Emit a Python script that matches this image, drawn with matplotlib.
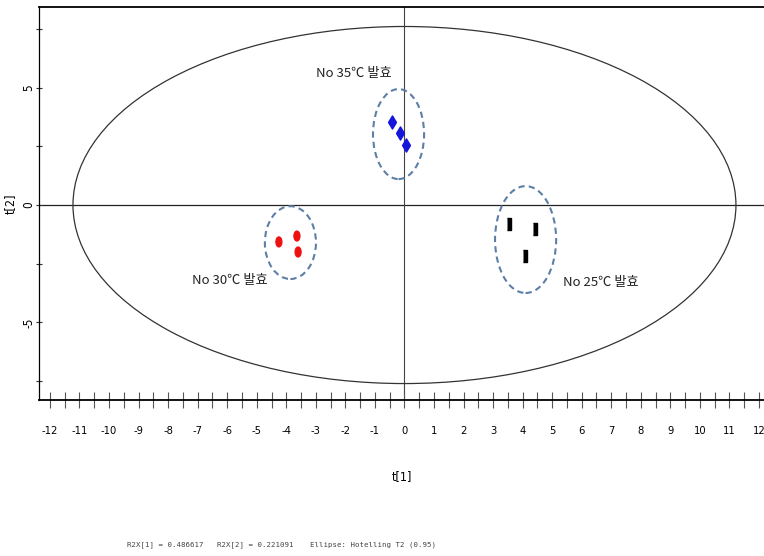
import matplotlib
matplotlib.use("Agg")
import matplotlib.pyplot as plt
from matplotlib.patches import Ellipse
from matplotlib.ticker import MultipleLocator

plt.rcParams['font.family'] = ['Noto Sans CJK KR', 'DejaVu Sans']
plt.rcParams['axes.unicode_minus'] = False

# PCA score values (t[1], t[2]) per sample group
groups = ["No 25℃ 발효", "No 30℃ 발효", "No 35℃ 발효"]
t1_25 = [3.54, 4.42, 4.08]
t2_25 = [-0.81, -1.02, -2.17]
t1_30 = [-4.25, -3.64, -3.60]
t2_30 = [-1.57, -1.32, -2.00]
t1_35 = [-0.42, -0.15, 0.05]
t2_35 = [3.53, 3.06, 2.55]

# group outline (centre x, centre y, width, height) and label position
group_circles = [(4.10, -1.47, 2.07, 4.55), (-3.86, -1.60, 1.73, 3.10), (-0.20, 3.02, 1.73, 3.83)]
label_pos = [(6.65, -3.28), (-5.90, -3.23), (-1.71, 5.58)]

# Hotelling T2 (0.95) ellipse semi-axes
t2_a = 11.22
t2_b = 7.6
r2x = [0.486617, 0.221091]

fig = plt.figure(figsize=(7.64, 5.56), dpi=100)
ax = fig.add_axes([39 / 764, 1 - 400 / 556, 1 - 39 / 764, 393 / 556])
ax.set_xlim(-12.37, 12.17)
ax.set_ylim(-8.30, 8.43)

ax.axhline(0, color='#222222', lw=0.9, zorder=1)
ax.axvline(0, color='#444444', lw=0.8, zorder=1)
ax.add_patch(Ellipse((0, 0), 2 * t2_a, 2 * t2_b, fill=False, ec='#333333', lw=0.9))

# markers: black bars, red dots, blue diamonds
bar = [(-0.35, -1), (0.35, -1), (0.35, 1), (-0.35, 1)]
ax.scatter(t1_25, t2_25, marker=bar, s=70, color='black', zorder=3)
ax.scatter(t1_35, t2_35, marker='d', s=45, color='#1515dd', zorder=3)
# red dots, a little taller than wide
for x, y in zip(t1_30, t2_30):
    ax.add_patch(Ellipse((x, y), 0.2, 0.42, color='#ee1111', zorder=3))

for (cx, cy, w, h), (lx, ly), name in zip(group_circles, label_pos, groups):
    ax.add_patch(Ellipse((cx, cy), w, h, fill=False, ec='#5d7fa6', lw=1.5, ls=(0, (3, 2))))
    ax.text(lx, ly, name, ha='center', va='center', fontsize=9.5, color='#222222')

ax.spines['right'].set_visible(False)
ax.spines['top'].set_linewidth(1.3)
ax.spines['bottom'].set_linewidth(1.3)
ax.spines['left'].set_linewidth(0.9)

ax.xaxis.set_major_locator(MultipleLocator(1))
ax.xaxis.set_minor_locator(MultipleLocator(0.5))
ax.yaxis.set_major_locator(MultipleLocator(5))
ax.yaxis.set_minor_locator(MultipleLocator(2.5))
ax.tick_params(axis='x', which='both', direction='inout', length=12, width=0.8,
               color='#555555', pad=13, labelsize=8)
ax.tick_params(axis='y', which='both', direction='inout', length=5, width=0.8,
               color='#333333', pad=0, labelsize=8.5)
for lab in ax.get_xticklabels() + ax.get_yticklabels():
    lab.set_family('DejaVu Sans')
    lab.set_stretch('condensed')
for lab in ax.get_yticklabels():
    lab.set_rotation(90)
    lab.set_va('center')

ax.set_xlabel("t[1]", fontsize=9, labelpad=24, family='DejaVu Sans', stretch='condensed')
ax.set_ylabel("t[2]", fontsize=9, family='DejaVu Sans', stretch='condensed')
ax.yaxis.set_label_coords(-22 / 725, 0.5)

foot_y = 1 - 545 / 556
foot = dict(ha='left', va='center', fontsize=5.3, family='DejaVu Sans Mono', color='#444444')
fig.text(127 / 764, foot_y, "R2X[1] = %.6f" % r2x[0], **foot)
fig.text(217 / 764, foot_y, "R2X[2] = %.6f" % r2x[1], **foot)
fig.text(310 / 764, foot_y, "Ellipse: Hotelling T2 (0.95)", **foot)

fig.savefig("out.png", dpi=100)
